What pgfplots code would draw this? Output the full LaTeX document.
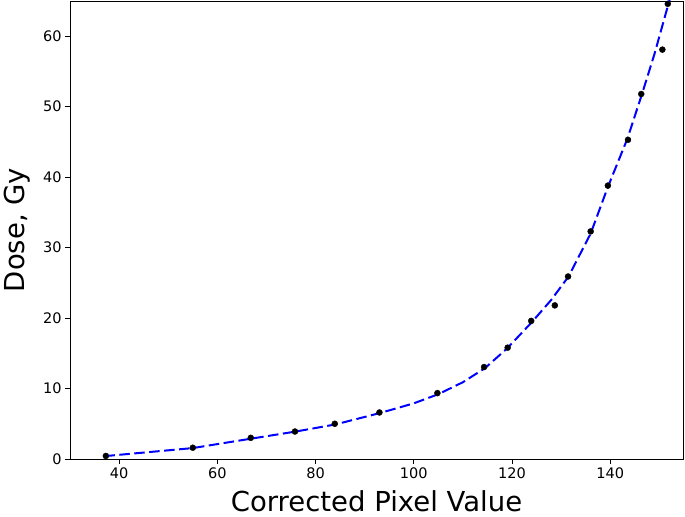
\documentclass[border=0pt]{standalone}
\usepackage{pgfplots}
\pgfplotsset{compat=1.18}
\usepackage{fontspec}
\setmainfont{DejaVu Sans}
\begin{document}
\begin{tikzpicture}
\begin{axis}[
  name=ax,
  scale only axis,
  width=613bp, height=458bp,
  xmin=30, xmax=154.8,
  ymin=0, ymax=65,
  xtick={40,60,...,140},
  ytick={0,10,...,60},
  xtick pos=left, ytick pos=left,
  tick align=outside,
  major tick length=5bp,
  every tick/.style={black, line width=0.8bp},
  axis line style={line width=0.8bp},
  /pgf/number format/assume math mode=true,
  ticklabel style={font=\fontsize{14.5bp}{16bp}\selectfont},
  xlabel={Corrected Pixel Value},
  ylabel={Dose, Gy},
  label style={font=\fontsize{27.5bp}{30bp}\selectfont},
  xlabel style={yshift=-5bp},
  ylabel style={yshift=6bp},
]
\addplot[blue, line width=2bp, dash pattern=on 10.5bp off 4.5bp] coordinates {
(37,0.4) (55,1.55) (67,2.9) (76,3.9) (84,4.9) (93,6.5) (100,7.9) (105,9.2)
(110,10.9) (114.5,12.9) (119,15.7) (124,19.4) (128,22.6) (131.5,25.9)
(136,32.0) (139.5,38.6) (143.5,45.5) (146.5,51.9) (149,57.5) (152.2,65.5)
};
\addplot[only marks, mark=*, mark size=3bp, black] coordinates {
(37.3,0.43) (55.0,1.6) (66.8,3.0) (75.8,3.9) (83.9,5.0) (93.0,6.6) (104.8,9.35)
(114.3,13.05) (119.1,15.8) (123.9,19.6) (128.7,21.8) (131.4,25.9) (136.0,32.3)
(139.5,38.8) (143.6,45.3) (146.3,51.8) (150.6,58.1) (151.7,64.6)
};
\end{axis}
\pgfresetboundingbox
\path[use as bounding box] ([xshift=-70bp,yshift=-58bp]ax.south west) rectangle ([xshift=2bp,yshift=1bp]ax.north east);
\end{tikzpicture}
\end{document}
